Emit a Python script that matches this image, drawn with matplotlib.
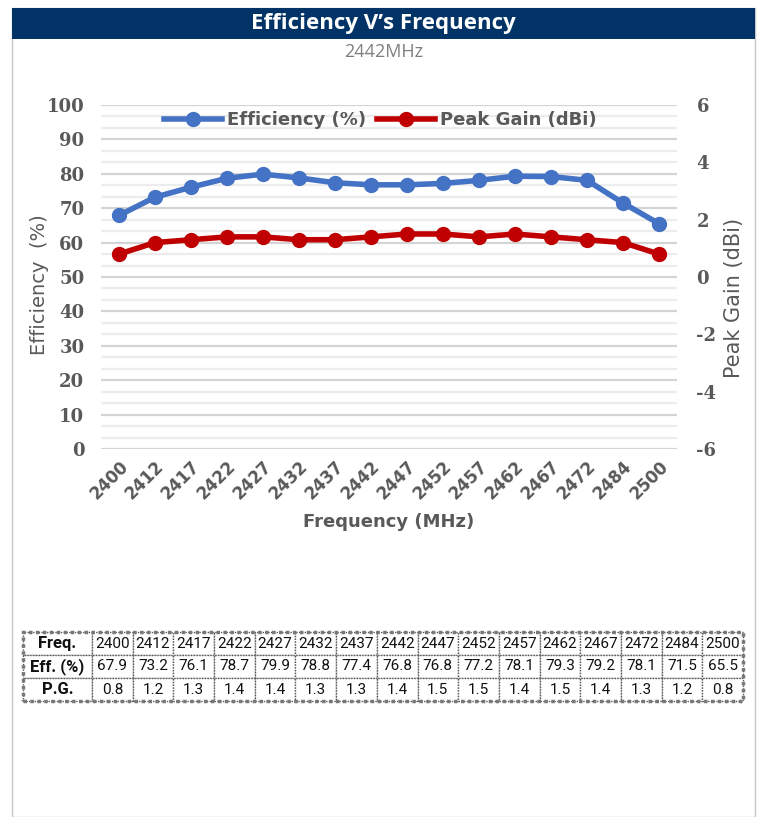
import numpy as np
import matplotlib
matplotlib.use("Agg")
import matplotlib.pyplot as plt
from matplotlib.patches import Rectangle
from matplotlib.ticker import MultipleLocator

plt.rcParams["axes.unicode_minus"] = False

freqs = ["2400", "2412", "2417", "2422", "2427", "2432", "2437", "2442",
         "2447", "2452", "2457", "2462", "2467", "2472", "2484", "2500"]
efficiency = [67.9, 73.2, 76.1, 78.7, 79.9, 78.8, 77.4, 76.8,
              76.8, 77.2, 78.1, 79.3, 79.2, 78.1, 71.5, 65.5]
peak_gain = [0.8, 1.2, 1.3, 1.4, 1.4, 1.3, 1.3, 1.4,
             1.5, 1.5, 1.4, 1.5, 1.4, 1.3, 1.2, 0.8]

W, H = 761, 817
fig = plt.figure(figsize=(W / 100, H / 100), dpi=100)
fig.patch.set_facecolor("white")

def fx(px):
    return px / W

def fy(py):
    return 1 - py / H

# outer frame and title bar
fig.add_artist(Rectangle((fx(12), fy(817)), fx(743), 809 / H, transform=fig.transFigure,
                         facecolor="none", edgecolor="#c8c8c8", lw=1))
fig.add_artist(Rectangle((fx(12), fy(39)), fx(743), 31 / H, transform=fig.transFigure,
                         facecolor="#023366", edgecolor="none"))
fig.text(fx(383), fy(24), "Efficiency V\u2019s Frequency", color="white",
         fontsize=16, fontweight="bold", fontstretch="normal", family="Open Sans",
         ha="center", va="center")
fig.text(fx(384), fy(52), "2442MHz", color="#7f7f7f", fontsize=13,
         family="Open Sans", fontstretch="normal", ha="center", va="center")

grey = "#595959"
ax = fig.add_axes([fx(101), fy(449), fx(576), (449 - 105) / H])
x = np.arange(len(freqs))
ax.plot(x, efficiency, color="#4472C4", lw=4, marker="o", ms=10, label="Efficiency (%)",
        zorder=3)
ax.set_xlim(-0.5, len(freqs) - 0.5)
ax.set_ylim(0, 100)
ax.yaxis.set_major_locator(MultipleLocator(10))
ax.yaxis.set_minor_locator(MultipleLocator(10 / 3))
ax.grid(axis="y", which="major", color="#d4d4d4", lw=1.6)
ax.grid(axis="y", which="minor", color="#ececec", lw=1.6)
ax.set_axisbelow(True)
for s in ax.spines.values():
    s.set_visible(False)
ax.tick_params(axis="both", which="both", length=0)
ax.set_xticks(x)
ax.set_xticklabels(freqs, rotation=45, ha="right", rotation_mode="anchor")
for lab in ax.get_xticklabels():
    lab.set_fontweight("bold")
    lab.set_color(grey)
    lab.set_fontsize(12)
for lab in ax.get_yticklabels():
    lab.set_fontweight("bold")
    lab.set_family("DejaVu Serif")
    lab.set_color(grey)
    lab.set_fontsize(13)
ax.tick_params(axis="y", pad=12)
ax.tick_params(axis="x", pad=6)
ax.set_xlabel("Frequency (MHz)", fontsize=13, fontweight="bold", color=grey, labelpad=7)
ax.set_ylabel("Efficiency  (%)", fontsize=14, color=grey)
ax.yaxis.set_label_coords(-0.090, 0.477)

ax2 = ax.twinx()
ax2.plot(x, peak_gain, color="#C00000", lw=4, marker="o", ms=10, label="Peak Gain (dBi)",
         zorder=3)
ax2.set_ylim(-6, 6)
ax2.yaxis.set_major_locator(MultipleLocator(2))
for s in ax2.spines.values():
    s.set_visible(False)
ax2.tick_params(axis="y", length=0, pad=14)
for lab in ax2.get_yticklabels():
    lab.set_fontweight("bold")
    lab.set_family("DejaVu Serif")
    lab.set_color(grey)
    lab.set_fontsize(13)
ax2.set_ylabel("Peak Gain (dBi)", fontsize=15, color=grey)
ax2.yaxis.set_label_coords(1.082, 0.44)

h1, l1 = ax.get_legend_handles_labels()
h2, l2 = ax2.get_legend_handles_labels()
leg = ax2.legend(h1 + h2, l1 + l2, loc="center", bbox_to_anchor=(0.485, 0.955), ncol=2,
                 frameon=False, handlelength=3.2, columnspacing=0.6, handletextpad=0.3,
                 prop={"size": 13, "weight": "bold"})
for t in leg.get_texts():
    t.set_color(grey)

# data table
tax = fig.add_axes([fx(23), fy(701), fx(720), 69 / H])
tax.axis("off")
rows = [["Freq."] + freqs,
        ["Eff. (%)"] + [f"{v:.1f}" for v in efficiency],
        ["P.G."] + [f"{v:.1f}" for v in peak_gain]]
first_w = 69 / 720
other_w = (1 - first_w) / len(freqs)
tbl = tax.table(cellText=rows, colWidths=[first_w] + [other_w] * len(freqs),
                cellLoc="center", bbox=[0, 0, 1, 1])
tbl.auto_set_font_size(False)
for (r, c), cell in tbl.get_celld().items():
    cell.set_edgecolor("#555555")
    cell.set_linestyle((0, (1, 1)))
    cell.set_linewidth(1)
    txt = cell.get_text()
    txt.set_family("Roboto")
    txt.set_fontsize(11)
    txt.set_color("#111111")
    if c == 0:
        txt.set_fontweight("bold")
        txt.set_fontsize(12)
tax.add_patch(Rectangle((0, 0), 1, 1, transform=tax.transAxes, fill=False,
                        edgecolor="#777777", lw=2.5, linestyle=(0, (1, 1)), clip_on=False))

fig.savefig("out.png", dpi=100)
